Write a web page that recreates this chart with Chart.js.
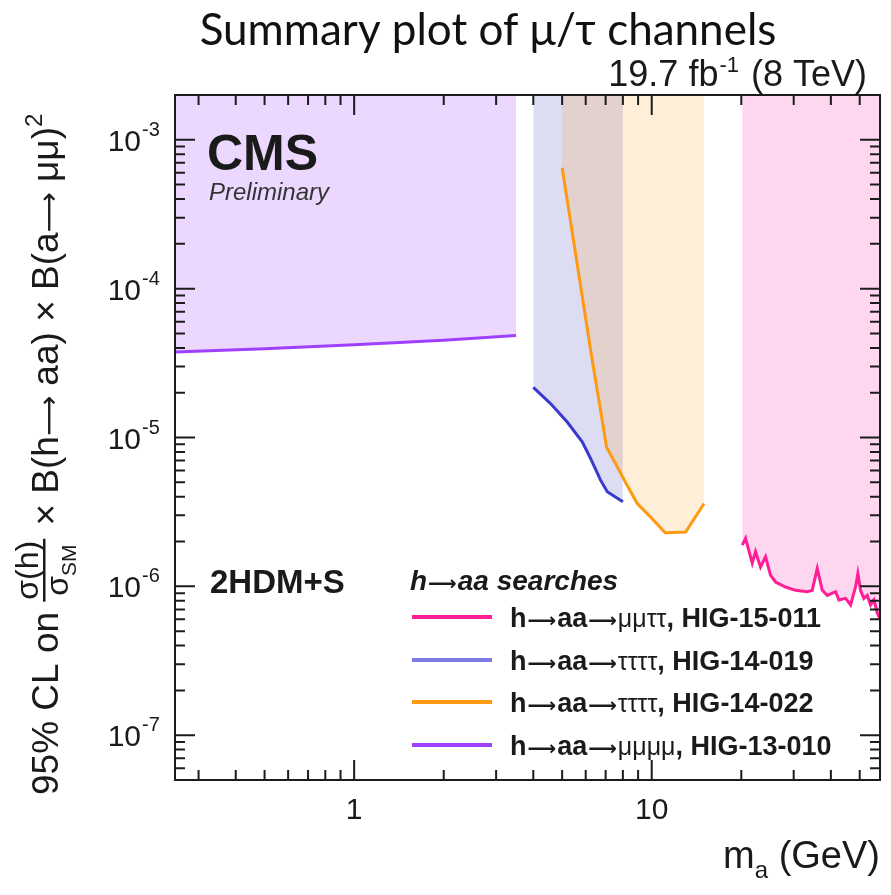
<!DOCTYPE html>
<html>
<head>
<meta charset="utf-8">
<script src="https://cdn.jsdelivr.net/npm/chart.js@4.4.1/dist/chart.umd.min.js"></script>
<style>
  body { margin: 0; background: #fff; }
  #wrap { width: 891px; height: 895px; position: relative; }
</style>
</head>
<body>
<div id="wrap"><canvas id="limitChart"></canvas></div>
<script>
// h -> aa -> mu mu tau tau (HIG-15-011)
const massMuTau = [20.15, 20.67, 21.77, 22.33, 23.21, 24.13, 25.07, 26.07, 28.17, 30.43, 33.32, 34.63, 36.0, 37.42,
  38.9, 41.49, 42.56, 44.82, 46.59, 48.42, 49.29, 50.32, 51.62, 53.0, 54.38, 55.8, 57.3, 58.45, 60.0];
const limitMuTau = [1.89e-6, 2.10e-6, 1.43e-6, 1.71e-6, 1.35e-6, 1.58e-6, 1.19e-6, 1.07e-6, 9.9e-7, 9.4e-7, 9.2e-7, 9.4e-7, 1.32e-6, 9.4e-7,
  8.7e-7, 9.2e-7, 8.1e-7, 8.3e-7, 7.5e-7, 9.9e-7, 1.22e-6, 9.4e-7, 8.3e-7, 8.7e-7, 7.5e-7, 8.1e-7, 6.6e-7, 6.1e-7, 5.6e-7];

// h -> aa -> 4 tau (HIG-14-019)
const massTauA = [4.0, 4.57, 5.2, 5.84, 6.23, 6.73, 7.09, 7.55, 8.0];
const limitTauA = [2.17e-5, 1.69e-5, 1.27e-5, 9.35e-6, 7.23e-6, 5.17e-6, 4.32e-6, 3.99e-6, 3.7e-6];

// h -> aa -> 4 tau (HIG-14-022)
const massTauB = [5.0, 6.31, 6.73, 7.05, 7.55, 8.16, 8.94, 9.78, 11.1, 13.0, 15.0];
const limitTauB = [6.5e-4, 3.3e-5, 1.53e-5, 8.6e-6, 6.7e-6, 5.0e-6, 3.6e-6, 3.0e-6, 2.29e-6, 2.32e-6, 3.6e-6];

// h -> aa -> 4 mu (HIG-13-010)
const massMuMu = [0.25, 0.5, 1.0, 2.0, 3.5];
const limitMuMu = [3.75e-5, 3.95e-5, 4.2e-5, 4.5e-5, 4.85e-5];

const xTickValues = [1, 10];
const xTickLabels = ['1', '10'];
const yTickValues = [1e-3, 1e-4, 1e-5, 1e-6, 1e-7];
const yTickExponents = ['-3', '-4', '-5', '-6', '-7'];

const legendColors = ['#ff1e96', '#7c7ce0', '#ff9a10', '#a040ff'];
const legendChannels = ['\u03bc\u03bc\u03c4\u03c4', '\u03c4\u03c4\u03c4\u03c4', '\u03c4\u03c4\u03c4\u03c4', '\u03bc\u03bc\u03bc\u03bc'];
const legendRefs = [', HIG-15-011', ', HIG-14-019', ', HIG-14-022', ', HIG-13-010'];

const SANS = '"Liberation Sans", Arial, sans-serif';
const ARROW = '"DejaVu Sans", sans-serif';
const LONG_ARROW = '\u27f6';
const toPoints = (xs, ys) => xs.map((x, i) => ({ x: x, y: ys[i] }));

// draw a list of text pieces one after another along the baseline
function drawRuns(ctx, x, y, runs) {
  let cx = x;
  runs.forEach(r => {
    ctx.font = r.font;
    cx += r.pre || 0;
    ctx.fillText(r.text, cx, y + (r.dy || 0));
    cx += ctx.measureText(r.text).width + (r.gap || 0);
  });
  return cx;
}

function runsWidth(ctx, runs) {
  let w = 0;
  runs.forEach(r => { ctx.font = r.font; w += ctx.measureText(r.text).width + (r.gap || 0) + (r.pre || 0); });
  return w;
}

const rootFrame = {
  id: 'rootFrame',
  beforeDraw(chart) {
    const ctx = chart.ctx;
    ctx.save();
    ctx.fillStyle = '#fff';
    ctx.fillRect(0, 0, chart.width, chart.height);
    ctx.restore();
  },
  afterDraw(chart) {
    const ctx = chart.ctx, a = chart.chartArea;
    const xs = chart.scales.x, ys = chart.scales.y;
    ctx.save();
    ctx.strokeStyle = '#1c1c1c';
    ctx.lineWidth = 2;

    // frame
    ctx.strokeRect(a.left, a.top, a.right - a.left, a.bottom - a.top);

    // inward ticks on all four sides
    ctx.beginPath();
    for (let e = -1; e <= 1; e++) {
      for (let k = 1; k <= 9; k++) {
        const v = k * Math.pow(10, e);
        if (v <= xs.min || v >= xs.max) continue;
        const px = xs.getPixelForValue(v);
        const len = k === 1 ? 20 : 10;
        ctx.moveTo(px, a.bottom); ctx.lineTo(px, a.bottom - len);
        ctx.moveTo(px, a.top); ctx.lineTo(px, a.top + len);
      }
    }
    for (let e = -8; e <= -3; e++) {
      for (let k = 1; k <= 9; k++) {
        const v = k * Math.pow(10, e);
        if (v <= ys.min || v >= ys.max) continue;
        const py = ys.getPixelForValue(v);
        const len = k === 1 ? 20 : 10;
        ctx.moveTo(a.left, py); ctx.lineTo(a.left + len, py);
        ctx.moveTo(a.right, py); ctx.lineTo(a.right - len, py);
      }
    }
    ctx.stroke();

    ctx.fillStyle = '#1a1a1a';
    ctx.textBaseline = 'alphabetic';

    // x tick labels
    ctx.textAlign = 'center';
    ctx.font = '30px ' + SANS;
    xTickValues.forEach((v, i) => {
      ctx.fillText(xTickLabels[i], xs.getPixelForValue(v), 819);
    });

    // y tick labels as powers of ten
    yTickValues.forEach((v, i) => {
      const py = ys.getPixelForValue(v);
      ctx.textAlign = 'right';
      ctx.font = '30px ' + SANS;
      ctx.fillText('10', 141, py + 11);
      ctx.textAlign = 'left';
      ctx.font = '20px ' + SANS;
      ctx.fillText(yTickExponents[i], 142, py - 4);
    });

    ctx.textAlign = 'left';

    // x axis title
    const xTitle = [
      { text: 'm', font: '38px ' + SANS },
      { text: 'a', font: '24px ' + SANS, dy: 10 },
      { text: ' (GeV)', font: '38px ' + SANS }
    ];
    drawRuns(ctx, 880 - runsWidth(ctx, xTitle), 868, xTitle);

    // luminosity label
    const lumi = [
      { text: '19.7 fb', font: '36px ' + SANS },
      { text: '-1', font: '22px ' + SANS, dy: -14, pre: 1 },
      { text: ' (8 TeV)', font: '36px ' + SANS, pre: 2 }
    ];
    drawRuns(ctx, 867 - runsWidth(ctx, lumi), 86, lumi);

    // page title
    ctx.textAlign = 'center';
    ctx.font = '44px Lato, "Open Sans", sans-serif';
    ctx.fillStyle = '#111';
    ctx.fillText('Summary plot of \u03bc/\u03c4 channels', 488, 45);
    ctx.fillStyle = '#1a1a1a';
    ctx.textAlign = 'left';

    // CMS logo text
    ctx.font = 'bold 50px ' + SANS;
    ctx.fillText('CMS', 207, 170);
    ctx.fillStyle = '#333';
    ctx.font = 'italic 24px ' + SANS;
    ctx.fillText('Preliminary', 209, 200);
    ctx.fillStyle = '#1a1a1a';

    ctx.font = 'bold 33px ' + SANS;
    ctx.fillText('2HDM+S', 210, 593);
    drawRuns(ctx, 410, 590, [
      { text: 'h', font: 'italic bold 28px ' + SANS },
      { text: LONG_ARROW, font: 'bold 20px ' + ARROW, pre: 1, gap: 1 },
      { text: 'aa searches', font: 'italic bold 28px ' + SANS }
    ]);

    // legend
    const rows = [617, 660, 702, 745];
    rows.forEach((cy, i) => {
      ctx.strokeStyle = legendColors[i];
      ctx.lineWidth = 4;
      ctx.beginPath();
      ctx.moveTo(412, cy); ctx.lineTo(492, cy);
      ctx.stroke();
      drawRuns(ctx, 510, cy + 10, [
        { text: 'h', font: 'bold 27px ' + SANS },
        { text: LONG_ARROW, font: 'bold 20px ' + ARROW, pre: 1, gap: 1 },
        { text: 'aa', font: 'bold 27px ' + SANS },
        { text: LONG_ARROW, font: 'bold 20px ' + ARROW, pre: 1, gap: 1 },
        { text: legendChannels[i], font: '25px ' + SANS },
        { text: legendRefs[i], font: 'bold 27px ' + SANS }
      ]);
    });

    // y axis title, rotated
    ctx.translate(58, 795);
    ctx.rotate(-Math.PI / 2);
    let u = drawRuns(ctx, 0, 0, [{ text: '95% CL on ', font: '37px ' + SANS }]);
    ctx.font = '32px ' + SANS;
    const numW = ctx.measureText('\u03c3(h)').width;
    const denRuns = [{ text: '\u03c3', font: '32px ' + SANS }, { text: 'SM', font: '21px ' + SANS, dy: 8 }];
    const denW = runsWidth(ctx, denRuns);
    const fracW = Math.max(numW, denW) + 4;
    ctx.font = '32px ' + SANS;
    ctx.fillText('\u03c3(h)', u + (fracW - numW) / 2, -20);
    drawRuns(ctx, u + (fracW - denW) / 2, 10, denRuns);
    ctx.fillRect(u, -15, fracW, 2.5);
    u += fracW;
    drawRuns(ctx, u, 0, [
      { text: ' \u00d7 B(h', font: '37px ' + SANS, pre: 3 },
      { text: LONG_ARROW, font: '28px ' + ARROW },
      { text: ' aa) \u00d7 B(a', font: '37px ' + SANS },
      { text: LONG_ARROW, font: '28px ' + ARROW },
      { text: ' \u03bc\u03bc)', font: '37px ' + SANS },
      { text: '2', font: '24px ' + SANS, dy: -16 }
    ]);
    ctx.restore();
  }
};

const limitChart = new Chart(document.getElementById('limitChart'), {
  type: 'line',
  data: {
    datasets: [
      {
        label: 'h\u2192aa\u2192\u03bc\u03bc\u03c4\u03c4, HIG-15-011',
        data: toPoints(massMuTau, limitMuTau),
        borderColor: '#ff1e96',
        backgroundColor: 'rgba(255, 60, 180, 0.21)',
        fill: 'end'
      },
      {
        label: 'h\u2192aa\u2192\u03c4\u03c4\u03c4\u03c4, HIG-14-022',
        data: toPoints(massTauB, limitTauB),
        borderColor: '#ff9a10',
        backgroundColor: 'rgba(255, 160, 40, 0.18)',
        fill: 'end'
      },
      {
        label: 'h\u2192aa\u2192\u03c4\u03c4\u03c4\u03c4, HIG-14-019',
        data: toPoints(massTauA, limitTauA),
        borderColor: '#3a3ad0',
        backgroundColor: 'rgba(80, 80, 190, 0.2)',
        fill: 'end'
      },
      {
        label: 'h\u2192aa\u2192\u03bc\u03bc\u03bc\u03bc, HIG-13-010',
        data: toPoints(massMuMu, limitMuMu),
        borderColor: '#a040ff',
        backgroundColor: 'rgba(160, 60, 255, 0.2)',
        fill: 'end'
      }
    ]
  },
  options: {
    responsive: true,
    maintainAspectRatio: false,
    animation: false,
    layout: { padding: { left: 175, top: 95, right: 11, bottom: 115 } },
    elements: {
      point: { radius: 0 },
      line: { borderWidth: 3, tension: 0 }
    },
    scales: {
      x: { type: 'logarithmic', min: 0.25, max: 58.5, display: false },
      y: { type: 'logarithmic', min: 5e-8, max: 2e-3, display: false }
    },
    plugins: {
      legend: { display: false },
      tooltip: { enabled: false },
      filler: { drawTime: 'beforeDatasetsDraw' }
    }
  },
  plugins: [rootFrame]
});
</script>
</body>
</html>
